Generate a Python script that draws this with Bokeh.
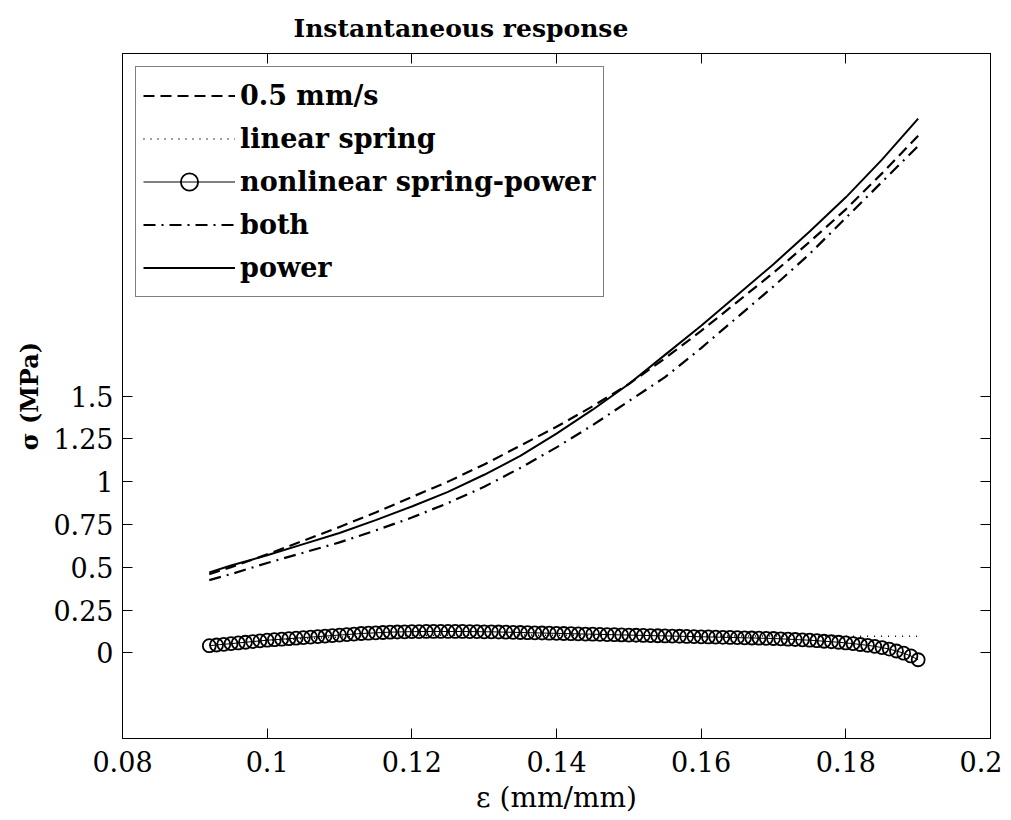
from bokeh.plotting import figure
from bokeh.models import (Range1d, LinearAxis, FixedTicker, CustomJSTickFormatter,
                          Legend, LegendItem)
from bokeh.embed import file_html
from bokeh.resources import INLINE

# ---------------- data ----------------
eps_main = [0.092, 0.095, 0.100, 0.105, 0.110, 0.115, 0.120, 0.125, 0.130, 0.135,
            0.140, 0.145, 0.150, 0.155, 0.160, 0.165, 0.170, 0.175, 0.180, 0.185, 0.190]
sig_exp = [0.46, 0.50, 0.575, 0.655, 0.735, 0.82, 0.91, 1.00, 1.10, 1.21,
           1.32, 1.44, 1.57, 1.72, 1.88, 2.05, 2.22, 2.40, 2.59, 2.80, 3.02]
sig_power = [0.47, 0.51, 0.57, 0.635, 0.70, 0.775, 0.855, 0.94, 1.04, 1.15,
             1.28, 1.42, 1.57, 1.74, 1.91, 2.09, 2.27, 2.46, 2.66, 2.88, 3.12]
sig_both = [0.425, 0.46, 0.525, 0.585, 0.645, 0.715, 0.79, 0.875, 0.97, 1.08,
            1.20, 1.33, 1.47, 1.61, 1.78, 1.96, 2.14, 2.33, 2.54, 2.75, 2.96]
sig_linear = [0.050, 0.058, 0.072, 0.083, 0.092, 0.098, 0.101, 0.103, 0.104, 0.104,
              0.103, 0.102, 0.101, 0.100, 0.099, 0.099, 0.098, 0.098, 0.097, 0.097, 0.097]

eps_nl = [0.092, 0.093, 0.094, 0.095, 0.096, 0.097, 0.098, 0.099, 0.100, 0.101,
          0.102, 0.103, 0.104, 0.105, 0.106, 0.107, 0.108, 0.109, 0.110, 0.111,
          0.112, 0.113, 0.114, 0.115, 0.116, 0.117, 0.118, 0.119, 0.120, 0.121,
          0.122, 0.123, 0.124, 0.125, 0.126, 0.127, 0.128, 0.129, 0.130, 0.131,
          0.132, 0.133, 0.134, 0.135, 0.136, 0.137, 0.138, 0.139, 0.140, 0.141,
          0.142, 0.143, 0.144, 0.145, 0.146, 0.147, 0.148, 0.149, 0.150, 0.151,
          0.152, 0.153, 0.154, 0.155, 0.156, 0.157, 0.158, 0.159, 0.160, 0.161,
          0.162, 0.163, 0.164, 0.165, 0.166, 0.167, 0.168, 0.169, 0.170, 0.171,
          0.172, 0.173, 0.174, 0.175, 0.176, 0.177, 0.178, 0.179, 0.180, 0.181,
          0.182, 0.183, 0.184, 0.185, 0.186, 0.187, 0.188, 0.189, 0.190]
sig_nl = [0.042, 0.046, 0.050, 0.054, 0.058, 0.062, 0.066, 0.070, 0.074, 0.077,
          0.080, 0.083, 0.086, 0.089, 0.092, 0.095, 0.098, 0.101, 0.104, 0.107,
          0.110, 0.113, 0.115, 0.117, 0.119, 0.121, 0.122, 0.123, 0.124, 0.124,
          0.125, 0.125, 0.125, 0.125, 0.125, 0.125, 0.124, 0.124, 0.123, 0.123,
          0.122, 0.121, 0.120, 0.119, 0.118, 0.117, 0.116, 0.115, 0.114, 0.113,
          0.112, 0.111, 0.110, 0.109, 0.108, 0.107, 0.106, 0.105, 0.104, 0.103,
          0.102, 0.101, 0.100, 0.099, 0.098, 0.097, 0.096, 0.095, 0.094, 0.093,
          0.092, 0.091, 0.090, 0.089, 0.088, 0.087, 0.086, 0.085, 0.084, 0.082,
          0.080, 0.078, 0.076, 0.074, 0.071, 0.068, 0.065, 0.062, 0.058, 0.054,
          0.049, 0.044, 0.038, 0.031, 0.022, 0.011, -0.002, -0.018, -0.040]

x_ticks = [0.08, 0.10, 0.12, 0.14, 0.16, 0.18, 0.20]
y_ticks = [0, 0.25, 0.5, 0.75, 1.0, 1.25, 1.5]

FONT = "DejaVu Serif"

# ---------------- figure ----------------
p = figure(frame_width=868, frame_height=685,
           x_range=Range1d(0.08, 0.2), y_range=Range1d(-0.5, 3.5),
           output_backend="svg", toolbar_location=None,
           min_border_left=122, min_border_right=12,
           min_border_top=53, min_border_bottom=74)
p.background_fill_color = "white"
p.border_fill_color = "white"
p.outline_line_color = "black"
p.outline_line_width = 1
p.xgrid.visible = False
p.ygrid.visible = False

p.title.text = "Instantaneous response"
p.title.align = "left"
p.title.offset = 171
p.title.text_font = FONT
p.title.text_font_size = "25px"
p.title.text_font_style = "bold"
p.title.text_color = "black"
p.title.standoff = 22

fmt = CustomJSTickFormatter(code="return String(Math.round(tick*1000)/1000);")
blank = CustomJSTickFormatter(code="return '';")

def style_axis(ax, ticks, labels=True):
    ax.ticker = FixedTicker(ticks=ticks)
    ax.formatter = fmt if labels else blank
    ax.major_tick_in = 10
    ax.major_tick_out = 0
    ax.minor_tick_line_color = None
    ax.axis_line_color = "black"
    ax.major_tick_line_color = "black"
    ax.major_label_text_font = FONT
    ax.major_label_text_font_size = "27px" if labels else "1px"
    ax.major_label_text_color = "black"
    ax.axis_label_text_font = FONT
    ax.axis_label_text_font_size = "27px"
    ax.axis_label_text_font_style = "normal"
    ax.axis_label_text_color = "black"
    if not labels:
        ax.major_label_standoff = 0

style_axis(p.xaxis[0], x_ticks)
style_axis(p.yaxis[0], y_ticks)
p.xaxis[0].axis_label = "ε (mm/mm)"
p.yaxis[0].axis_label = "σ (MPa)"
p.xaxis[0].axis_label_text_font_size = "28px"
p.yaxis[0].axis_label_text_font_style = "bold"
p.yaxis[0].axis_label_text_font_size = "24px"
p.xaxis[0].major_label_standoff = 12
p.xaxis[0].axis_label_standoff = 6
p.yaxis[0].major_label_standoff = 9
p.yaxis[0].axis_label_standoff = 6

top_ax = LinearAxis()
style_axis(top_ax, x_ticks, labels=False)
p.add_layout(top_ax, "above")
right_ax = LinearAxis()
style_axis(right_ax, y_ticks, labels=False)
p.add_layout(right_ax, "right")

# ---------------- series ----------------
r_nl_line = p.line(eps_nl, sig_nl, line_color="black", line_width=1)
r_nl_pts = p.scatter(eps_nl, sig_nl, marker="circle", size=13, line_color="black",
                     line_width=1.8, fill_alpha=0)
r_lin = p.line(eps_main, sig_linear, line_color="black", line_width=1.5, line_dash="1 6")
r_exp = p.line(eps_main, sig_exp, line_color="black", line_width=2.2, line_dash="11 6")
r_both = p.line(eps_main, sig_both, line_color="black", line_width=2.2, line_dash="12 6 2 6")
r_pow = p.line(eps_main, sig_power, line_color="black", line_width=2)

legend = Legend(items=[
    LegendItem(label="0.5 mm/s", renderers=[r_exp]),
    LegendItem(label="linear spring", renderers=[r_lin]),
    LegendItem(label="nonlinear spring-power", renderers=[r_nl_line, r_nl_pts]),
    LegendItem(label="both", renderers=[r_both]),
    LegendItem(label="power", renderers=[r_pow]),
], location=(13, 441))
legend.label_text_font = FONT
legend.label_text_font_size = "27px"
legend.label_text_font_style = "bold"
legend.label_text_color = "black"
legend.glyph_width = 92
legend.glyph_height = 43
legend.label_height = 43
legend.label_standoff = 5
legend.spacing = 0
legend.padding = 7
legend.margin = 0
legend.border_line_color = "black"
legend.border_line_width = 1.5
legend.background_fill_color = "white"
legend.background_fill_alpha = 1
p.add_layout(legend, "center")

open("out.html", "w").write(file_html(p, INLINE))
